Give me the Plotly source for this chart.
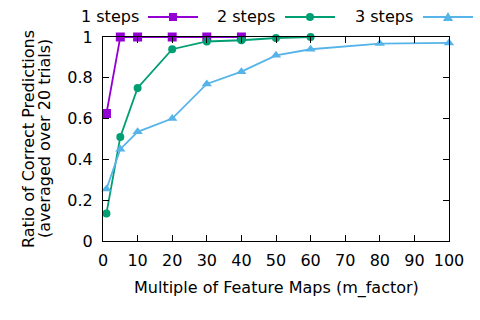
import plotly.graph_objects as go

x1 = [1, 5, 10, 20, 30, 40]
y1 = [0.625, 1, 1, 1, 1, 1]
x2 = [1, 5, 10, 20, 30, 40, 50, 60]
y2 = [0.135, 0.51, 0.75, 0.94, 0.978, 0.984, 0.995, 1.0]
x3 = [1, 5, 10, 20, 30, 40, 50, 60, 80, 100]
y3 = [0.255, 0.45, 0.535, 0.6, 0.77, 0.83, 0.91, 0.94, 0.968, 0.971]
names = ["1 steps", "2 steps", "3 steps"]
colors = ["#9400D3", "#009E73", "#56B4E9"]
symbols = ["square", "circle", "triangle-up"]
xtitle = "Multiple of Feature Maps (m_factor)"
ytitle = ["Ratio of Correct Predictions", "(averaged over 20 trials)"]

W, H = 480, 320
L, R, T, B = 103, 449, 37, 241
FONT = "DejaVu Sans"
FS = 16

fig = go.Figure()
for xs, ys, n, c, s in zip([x1, x2, x3], [y1, y2, y3], names, colors, symbols):
    fig.add_trace(go.Scatter(x=xs, y=ys, name=n, mode="lines+markers",
                             line=dict(color=c, width=1.8),
                             marker=dict(symbol=s, size=9 if s != "circle" else 8, color=c),
                             cliponaxis=False, showlegend=False))

def px(xp):
    return (xp - L) / (R - L)

def py(yp):
    return (B - yp) / (B - T)

# manual legend (gnuplot style: text then sample)
leg = [(141, 148, 198), (277, 285, 335), (415, 423, 473)]
ly = 17
shapes = []
annotations = []
for (tx, s0, s1), n, c, s in zip(leg, names, colors, symbols):
    annotations.append(dict(x=px(tx), y=py(ly), xref="paper", yref="paper", text=n,
                            showarrow=False, xanchor="right", yanchor="middle",
                            font=dict(family=FONT, size=FS, color="black")))
    shapes.append(dict(type="line", xref="paper", yref="paper", x0=px(s0), x1=px(s1),
                       y0=py(ly), y1=py(ly), line=dict(color=c, width=1.8)))
    cx = (s0 + s1) / 2
    if s == "square":
        shapes.append(dict(type="rect", xref="paper", yref="paper", x0=px(cx - 4), x1=px(cx + 4),
                           y0=py(ly + 4), y1=py(ly - 4), fillcolor=c, line=dict(width=0)))
    elif s == "circle":
        shapes.append(dict(type="circle", xref="paper", yref="paper", x0=px(cx - 4), x1=px(cx + 4),
                           y0=py(ly + 4), y1=py(ly - 4), fillcolor=c, line=dict(width=0)))
    else:
        path = "M {} {} L {} {} L {} {} Z".format(px(cx - 5), py(ly + 4), px(cx + 5), py(ly + 4), px(cx), py(ly - 5))
        shapes.append(dict(type="path", xref="paper", yref="paper", path=path,
                           fillcolor=c, line=dict(width=0)))

# axis titles as annotations for exact placement
annotations.append(dict(x=0.5, y=py(288), xref="paper", yref="paper", text=xtitle,
                        showarrow=False, xanchor="center", yanchor="middle",
                        font=dict(family=FONT, size=FS, color="black")))
for xp, t in zip([28, 44], ytitle):
    annotations.append(dict(x=px(xp), y=py(139), xref="paper", yref="paper", text=t,
                            showarrow=False, xanchor="center", yanchor="middle", textangle=-90,
                            font=dict(family=FONT, size=FS, color="black")))

fig.update_layout(
    width=W, height=H,
    margin=dict(l=L, r=W - R, t=T, b=H - B),
    paper_bgcolor="white", plot_bgcolor="white",
    font=dict(family=FONT, size=FS, color="black"),
    shapes=shapes, annotations=annotations,
    xaxis=dict(range=[0, 100], dtick=10, tick0=0, ticks="inside", ticklen=6, tickcolor="black",
               showline=True, linecolor="black", linewidth=1, mirror="allticks",
               showgrid=False, zeroline=False, ticklabelstandoff=5,
               tickfont=dict(size=FS)),
    yaxis=dict(range=[0, 1], dtick=0.2, tick0=0, ticks="inside", ticklen=6, tickcolor="black",
               showline=True, linecolor="black", linewidth=1, mirror="allticks",
               showgrid=False, zeroline=False, ticklabelstandoff=6,
               tickfont=dict(size=FS)),
)

fig.write_html("out.html")
